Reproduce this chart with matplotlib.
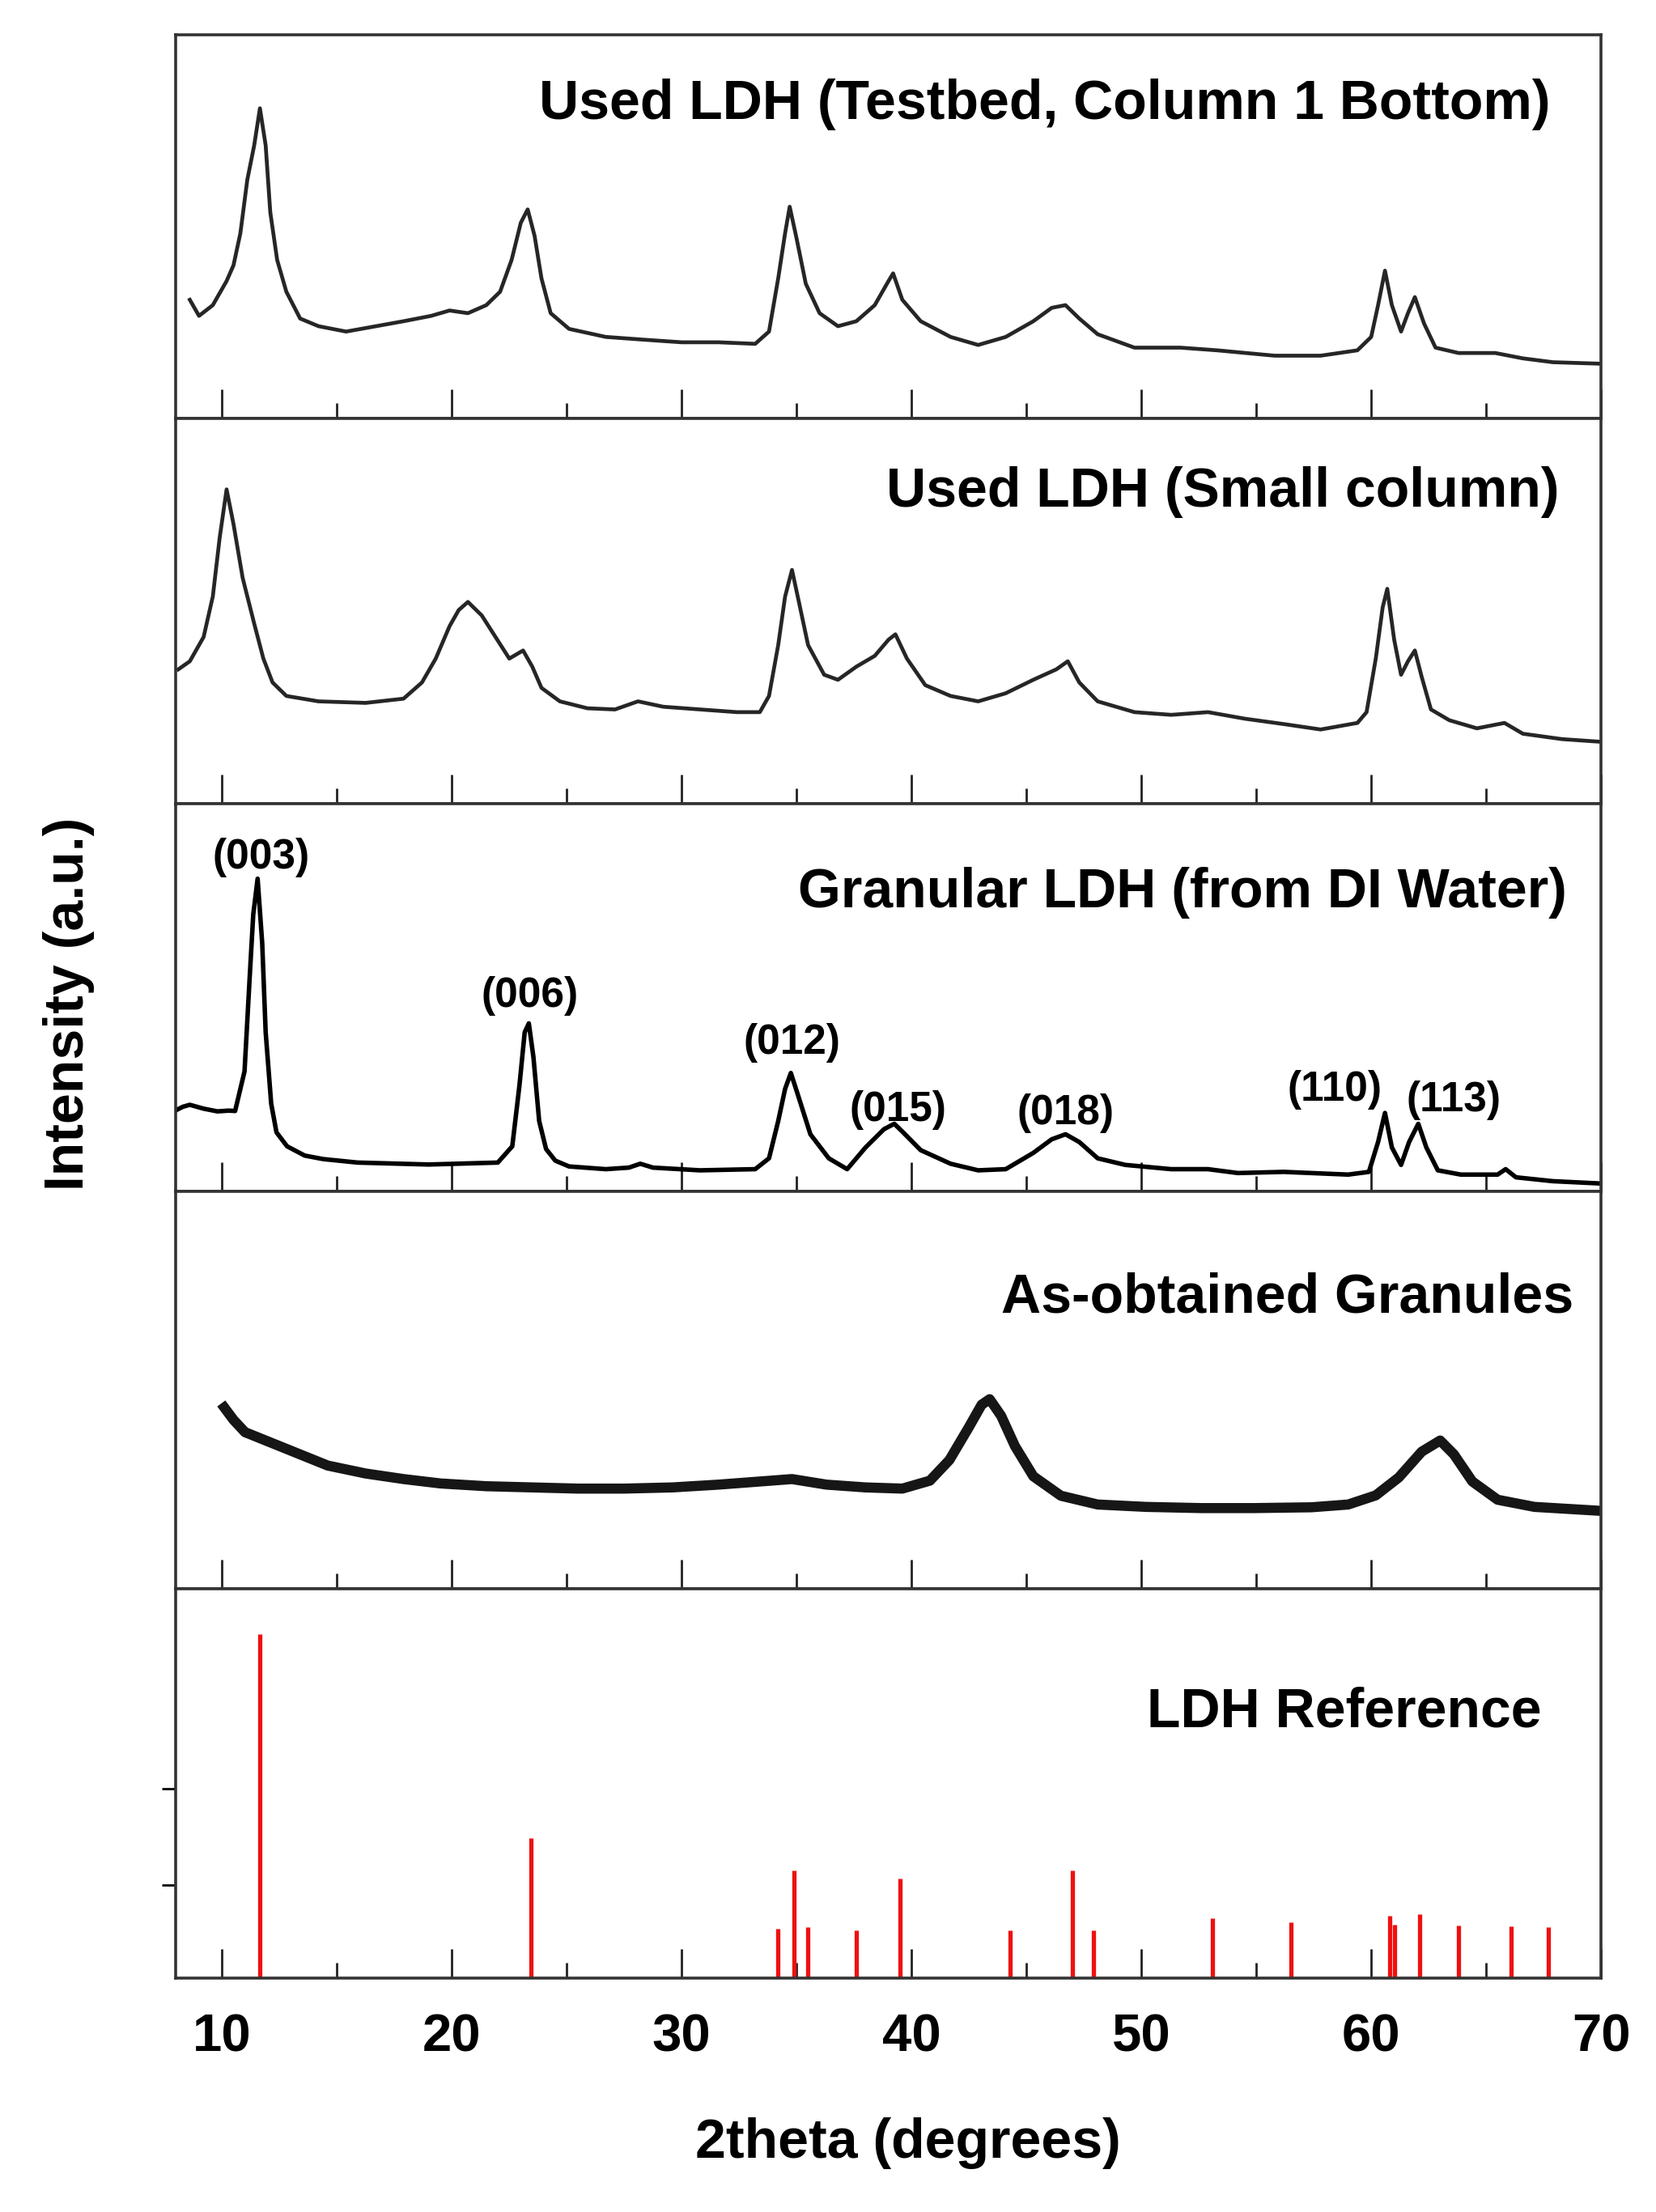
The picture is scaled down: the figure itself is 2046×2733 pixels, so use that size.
import matplotlib
matplotlib.use("Agg")
import matplotlib.pyplot as plt
from matplotlib.ticker import MultipleLocator

plt.rcParams['font.family'] = ['Liberation Sans', 'DejaVu Sans']
plt.rcParams['font.weight'] = 'bold'

# Used LDH (Testbed, Column 1 Bottom)
p1_2theta = [8.6, 9.0, 9.6, 10.2, 10.5, 10.8, 11.1, 11.4, 11.65, 11.9,
             12.1, 12.4, 12.8, 13.4, 14.2, 15.4, 16.7, 17.9, 19.1, 19.9,
             20.7, 21.5, 22.1, 22.6, 23.0, 23.3, 23.6, 23.9, 24.3, 25.1,
             26.7, 28.3, 30.0, 31.6, 33.2, 33.8, 34.2, 34.5, 34.7, 35.0,
             35.4, 36.0, 36.8, 37.6, 38.4, 39.0, 39.2, 39.6, 40.4, 41.7,
             42.9, 44.1, 45.3, 46.1, 46.7, 47.3, 48.1, 49.7, 51.7, 53.3,
             55.8, 57.8, 59.4, 60.0, 60.3, 60.6, 60.9, 61.3, 61.6, 61.9,
             62.3, 62.8, 63.8, 65.4, 66.6, 67.9, 70.0]
p1_int = [30.9, 26.7, 29.5, 35.8, 39.9, 48.3, 62.2, 71.2, 80.9, 71.2,
          53.8, 41.3, 33.0, 26.0, 24.0, 22.6, 24.0, 25.3, 26.7, 28.1,
          27.4, 29.5, 33.0, 41.3, 51.0, 54.5, 47.6, 36.5, 27.4, 23.3,
          21.2, 20.5, 19.8, 19.8, 19.4, 22.6, 36.5, 48.3, 55.2, 46.9,
          35.1, 27.4, 24.0, 25.3, 29.5, 35.8, 37.8, 30.9, 25.3, 21.2,
          19.1, 21.2, 25.3, 28.8, 29.5, 26.0, 21.9, 18.4, 18.4, 17.7,
          16.3, 16.3, 17.7, 21.2, 29.5, 38.5, 29.5, 22.6, 27.4, 31.6,
          24.7, 18.4, 17.0, 17.0, 15.6, 14.6, 14.2]

# Used LDH (Small column)
p2_2theta = [8.1, 8.6, 9.2, 9.6, 9.9, 10.2, 10.5, 10.9, 11.4, 11.8,
             12.2, 12.8, 14.2, 16.25, 17.9, 18.7, 19.3, 19.9, 20.3, 20.7,
             21.3, 21.9, 22.5, 23.1, 23.5, 23.9, 24.7, 25.9, 27.1, 28.1,
             29.2, 30.8, 32.4, 33.4, 33.8, 34.2, 34.5, 34.8, 35.1, 35.5,
             36.2, 36.8, 37.6, 38.4, 39.0, 39.3, 39.8, 40.6, 41.7, 42.9,
             44.1, 45.3, 46.3, 46.8, 47.3, 48.1, 49.7, 51.3, 52.9, 54.5,
             56.2, 57.8, 59.4, 59.8, 60.2, 60.5, 60.7, 61.0, 61.3, 61.6,
             61.9, 62.2, 62.6, 63.4, 64.6, 65.8, 66.6, 68.3, 70.0]
p2_int = [34.8, 36.9, 43.2, 53.7, 69.0, 81.5, 72.5, 58.5, 46.7, 37.6,
          31.4, 27.9, 26.5, 26.1, 27.2, 31.4, 37.6, 46.0, 50.2, 52.3,
          48.8, 43.2, 37.6, 39.7, 35.5, 30.0, 26.5, 24.7, 24.4, 26.5,
          25.1, 24.4, 23.7, 23.7, 27.9, 41.1, 53.7, 60.6, 52.3, 41.1,
          33.4, 32.1, 35.5, 38.3, 42.5, 43.9, 37.6, 30.7, 27.9, 26.5,
          28.6, 32.1, 34.8, 36.9, 31.4, 26.5, 23.7, 23.0, 23.7, 22.0,
          20.6, 19.2, 20.9, 23.7, 37.6, 50.9, 55.7, 42.5, 33.4, 36.9,
          39.7, 32.8, 24.4, 21.6, 19.5, 20.9, 18.1, 16.7, 16.0]

# Granular LDH (from DI Water)
p3_2theta = [8.0, 8.3, 8.6, 9.2, 9.8, 10.3, 10.57, 10.98, 11.2, 11.36,
             11.55, 11.75, 11.9, 12.14, 12.37, 12.83, 13.6, 14.4, 15.9, 19.0,
             22.0, 22.63, 22.94, 23.17, 23.35, 23.55, 23.8, 24.1, 24.5, 25.1,
             26.7, 27.7, 28.2, 28.75, 30.8, 33.2, 33.8, 34.2, 34.5, 34.75,
             35.05, 35.6, 36.4, 37.2, 38.0, 38.8, 39.25, 39.6, 40.4, 41.7,
             42.9, 44.1, 45.3, 46.1, 46.7, 47.3, 48.1, 49.3, 51.3, 52.9,
             54.2, 56.2, 59.0, 59.9, 60.3, 60.6, 60.9, 61.3, 61.65, 62.05,
             62.4, 62.9, 63.9, 65.5, 65.85, 66.3, 67.9, 70.0]
p3_int = [20.9, 21.8, 22.3, 21.3, 20.6, 20.8, 20.7, 30.9, 54.7, 71.4,
          80.6, 63.9, 41.0, 22.6, 15.2, 11.6, 9.2, 8.3, 7.4, 6.9,
          7.4, 11.6, 27.2, 41.0, 43.3, 34.6, 18.1, 10.9, 7.9, 6.4,
          5.7, 6.1, 7.1, 6.1, 5.4, 5.7, 8.5, 18.1, 26.4, 30.5,
          25.0, 14.7, 8.5, 5.7, 11.3, 16.0, 17.4, 15.4, 10.6, 7.1,
          5.4, 5.7, 9.9, 13.4, 14.7, 12.7, 8.5, 6.8, 5.7, 5.7,
          4.7, 5.0, 4.3, 5.0, 12.7, 20.2, 11.3, 6.8, 12.7, 17.4,
          11.3, 5.4, 4.3, 4.3, 5.7, 3.6, 2.6, 2.0]

hkl_labels = ['(003)', '(006)', '(012)', '(015)', '(018)', '(110)', '(113)']
hkl_x = [11.7, 23.4, 34.8, 39.4, 46.7, 58.4, 63.6]
hkl_y = [86.0, 50.4, 38.2, 21.0, 20.2, 26.2, 23.4]

# As-obtained Granules
p4_2theta = [10.1, 10.5, 11.0, 12.2, 13.4, 14.6, 16.25, 17.9, 19.5, 21.5,
             23.5, 25.5, 27.5, 29.6, 31.6, 33.2, 34.8, 36.3, 38.0, 39.6,
             40.8, 41.65, 42.5, 43.05, 43.4, 43.9, 44.5, 45.3, 46.5, 48.1,
             50.2, 52.6, 54.9, 57.4, 59.0, 60.2, 61.2, 62.2, 63.0, 63.6,
             64.4, 65.5, 67.1, 70.0]
p4_int = [45.6, 42.5, 39.4, 36.6, 33.8, 31.0, 29.0, 27.6, 26.5, 25.8,
          25.5, 25.2, 25.2, 25.5, 26.2, 26.9, 27.6, 26.2, 25.5, 25.2,
          27.2, 32.4, 40.7, 46.3, 47.7, 43.5, 35.9, 28.3, 23.4, 21.2,
          20.6, 20.3, 20.3, 20.5, 21.2, 23.5, 28.0, 34.5, 37.3, 33.8,
          27.0, 22.4, 20.6, 19.6]

# LDH Reference (stick pattern)
ref_2theta = [11.66, 23.44, 34.2, 34.9, 35.5, 37.6, 39.5, 44.3, 47.0, 47.9,
              53.1, 56.5, 60.8, 61.0, 62.1, 63.8, 66.1, 67.7]
ref_int = [100, 40.6, 14.4, 31.3, 14.8, 13.8, 29.0, 13.8, 31.3, 14.0,
           17.5, 16.3, 18.1, 15.6, 18.5, 15.4, 15.0, 14.8]

titles = ['Used LDH (Testbed, Column 1 Bottom)', 'Used LDH (Small column)',
          'Granular LDH (from DI Water)', 'As-obtained Granules', 'LDH Reference']
title_x = [67.8, 68.2, 68.5, 68.8, 67.4]
title_y = [82.0, 80.7, 77.0, 73.1, 77.3]

fig = plt.figure(figsize=(20.46, 27.33), dpi=100)
gs = fig.add_gridspec(5, 1, left=0.1063, right=0.9668, bottom=0.1057,
                      top=0.9841, hspace=0,
                      height_ratios=[473, 476, 479, 491, 481])
axes = [fig.add_subplot(gs[i, 0]) for i in range(5)]

axes[0].plot(p1_2theta, p1_int, color='#262626', lw=3.4)
axes[1].plot(p2_2theta, p2_int, color='#262626', lw=3.4)
axes[2].plot(p3_2theta, p3_int, color='black', lw=4)
for lab, hx, hy in zip(hkl_labels, hkl_x, hkl_y):
    axes[2].text(hx, hy, lab, ha='center', va='center', fontsize=37,
                 fontweight='bold')
axes[3].plot(p4_2theta, p4_int, color='#161616', lw=9)
axes[4].vlines(ref_2theta, 0, ref_int, color='#ee1111', lw=3.8)

ylims = [100, 100, 100, 100, 113.1]
for i, ax in enumerate(axes):
    ax.set_xlim(8, 70)
    ax.set_ylim(0, ylims[i])
    for sp in ax.spines.values():
        sp.set_linewidth(2.6)
        sp.set_color('#333333')
    ax.xaxis.set_major_locator(MultipleLocator(10))
    ax.xaxis.set_minor_locator(MultipleLocator(5))
    ax.tick_params(axis='x', which='major', direction='in', length=25.6,
                   width=2, top=False, labelbottom=False, color='#222222')
    ax.tick_params(axis='x', which='minor', direction='in', length=13.4,
                   width=2, top=False, color='#222222')
    ax.set_yticks([])
    ax.text(title_x[i], title_y[i], titles[i], ha='right', va='center',
            fontsize=49, fontweight='bold')

axes[4].set_yticks([27, 55])
axes[4].tick_params(axis='y', direction='out', length=12, width=2,
                    labelleft=False)
axes[4].tick_params(axis='x', which='major', labelbottom=True,
                    labelsize=47, pad=31)
for lbl in axes[4].get_xticklabels():
    lbl.set_fontweight('bold')

fig.text(0.5485, 0.0311, '2theta (degrees)', ha='center', va='center',
         fontsize=49, fontweight='bold')
fig.text(0.0415, 0.546, 'Intensity (a.u.)', ha='center', va='center',
         rotation=90, fontsize=49, fontweight='bold')

fig.savefig('out.png', dpi=100, facecolor='white')
